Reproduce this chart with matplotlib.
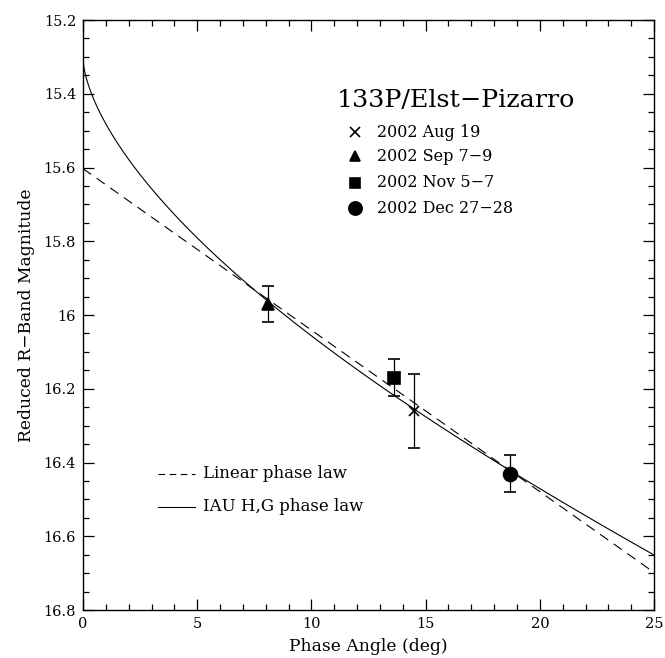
import numpy as np
import matplotlib
matplotlib.use("Agg")
import matplotlib.pyplot as plt
from matplotlib.ticker import MultipleLocator, FuncFormatter

plt.rcParams['font.family'] = ['DejaVu Serif']
plt.rcParams['mathtext.fontset'] = 'dejavuserif'

# Observations: phase angle (deg), reduced R magnitude, 1-sigma uncertainty
dates = ["2002 Aug 19", "2002 Sep 7\u22129", "2002 Nov 5\u22127", "2002 Dec 27\u221228"]
markers = ["x", "^", "s", "o"]
marker_sizes = [7, 8, 8, 10]
phase = [14.5, 8.1, 13.6, 18.7]
mag = [16.26, 15.97, 16.17, 16.43]
mag_err = [0.10, 0.05, 0.05, 0.05]

# Phase-law fits
lin_m0 = 15.603     # linear law: magnitude at zero phase
lin_beta = 0.0438   # linear law: slope (mag/deg)
hg_H = 15.305       # IAU H,G law: absolute magnitude
hg_G = 0.03         # IAU H,G law: slope parameter

alpha = np.linspace(0.0, 25.0, 800)
lin_curve = lin_m0 + lin_beta * alpha
t = np.tan(np.radians(alpha) / 2.0)
phi1 = np.exp(-3.33 * t ** 0.63)
phi2 = np.exp(-1.87 * t ** 1.22)
hg_curve = hg_H - 2.5 * np.log10((1 - hg_G) * phi1 + hg_G * phi2)

DASH = (0, (9, 6))

fig = plt.figure(figsize=(6.65, 6.58), dpi=100)
ax = fig.add_axes([0.1248, 0.0729, 0.8587, 0.8967])

ax.plot(alpha, lin_curve, color='black', lw=0.8, ls=DASH)
ax.plot(alpha, hg_curve, color='black', lw=0.8)

for x, y, e, mk, ms in zip(phase, mag, mag_err, markers, marker_sizes):
    ax.errorbar(x, y, yerr=e, fmt=mk, color='black', ms=ms, mew=1.2,
                elinewidth=0.9, capsize=4.5, capthick=0.9, zorder=3)

ax.set_xlim(0, 25)
ax.set_ylim(16.8, 15.2)
ax.xaxis.set_major_locator(MultipleLocator(5))
ax.xaxis.set_minor_locator(MultipleLocator(1))
ax.yaxis.set_major_locator(MultipleLocator(0.2))
ax.yaxis.set_minor_locator(MultipleLocator(0.05))
ax.yaxis.set_major_formatter(FuncFormatter(lambda v, p: f"{v:g}"))
ax.tick_params(which='both', direction='in', top=True, right=True,
               labelsize=10.5, width=0.9)
ax.tick_params(which='major', length=8, pad=5)
ax.tick_params(which='minor', length=4.3)
for s in ax.spines.values():
    s.set_linewidth(1.0)

ax.set_xlabel("Phase Angle (deg)", fontsize=12.3, labelpad=5)
ax.set_ylabel("Reduced R\u2212Band Magnitude", fontsize=12.3, labelpad=6)

# Object name and observation key
ax.text(0.445, 0.864, "133P/Elst\u2212Pizarro", transform=ax.transAxes,
        fontsize=18.3, va='center', ha='left')
rows_y = [0.810, 0.769, 0.724, 0.681]
for lbl, mk, ms, yy in zip(dates, markers, marker_sizes, rows_y):
    ax.plot([0.476], [yy], marker=mk, ms=ms * 0.95, mew=1.2, color='black',
            transform=ax.transAxes, clip_on=False)
    ax.text(0.515, yy, lbl, transform=ax.transAxes, fontsize=11.5,
            va='center', ha='left')

# Line key
ax.plot([0.131, 0.196], [0.231, 0.231], color='black', lw=0.8,
        ls=(0, (6, 4)), transform=ax.transAxes)
ax.text(0.210, 0.231, "Linear phase law", transform=ax.transAxes,
        fontsize=12, va='center', ha='left')
ax.plot([0.131, 0.196], [0.175, 0.175], color='black', lw=0.8,
        transform=ax.transAxes)
ax.text(0.210, 0.175, "IAU H,G phase law", transform=ax.transAxes,
        fontsize=12, va='center', ha='left')

fig.savefig("out.png", dpi=100)
